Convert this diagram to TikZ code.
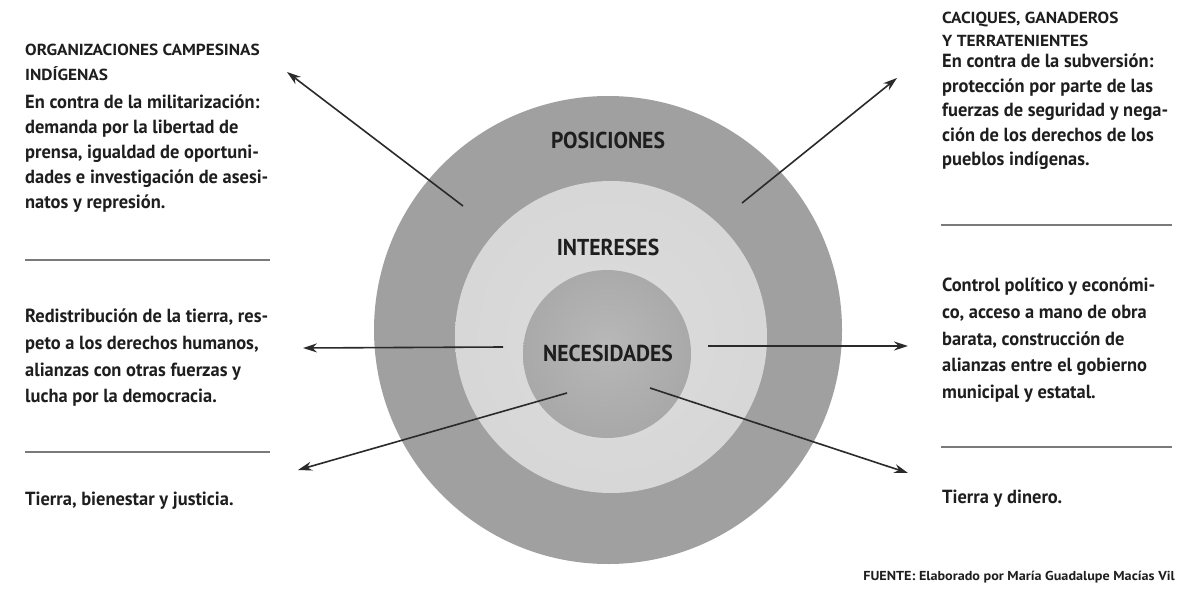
\documentclass[tikz,border=0pt]{standalone}
\usepackage{fontspec}
\setmainfont{PT Sans}
\newfontfamily\txtfont{PT Sans}[FakeStretch=0.97]
\newfontfamily\capfont{PT Sans}[FakeStretch=1.08]
\newfontfamily\ringfont{PT Sans}[FakeStretch=0.94]
\newfontfamily\srcfont{PT Sans}[FakeStretch=1.09]
\usetikzlibrary{arrows.meta}

\definecolor{ink}{HTML}{1E1E1E}
\definecolor{arrowink}{HTML}{2A2A2A}
\definecolor{rulegray}{HTML}{7A7A7A}
\definecolor{ringout}{HTML}{A0A0A0}
\definecolor{midin}{HTML}{DCDCDC}
\definecolor{midmid}{HTML}{D4D4D4}
\definecolor{midedge}{HTML}{C4C4C4}
\definecolor{corein}{HTML}{B8B8B8}
\definecolor{coremid}{HTML}{A6A6A6}
\definecolor{coreedge}{HTML}{949494}

% soft radial fills for the two inner discs
\pgfdeclareradialshading{midshade}{\pgfpoint{0bp}{0bp}}{%
  color(0bp)=(midin); color(38bp)=(midmid); color(47bp)=(midmid); color(50bp)=(midedge)}
\pgfdeclareradialshading{coreshade}{\pgfpoint{0bp}{3bp}}{%
  color(0bp)=(corein); color(30bp)=(coremid); color(50bp)=(coreedge)}

\tikzset{
  txt/.style={anchor=north west, inner sep=0pt, align=left, text=ink,
              font=\txtfont\bfseries\fontsize{19}{25}\selectfont},
  head/.style={anchor=north west, inner sep=0pt, align=left, text=ink,
               font=\capfont\bfseries\fontsize{16}{25}\selectfont},
  ring/.style={inner sep=0pt, text=ink, font=\ringfont\bfseries\fontsize{23}{26}\selectfont},
  arr/.style={draw=arrowink, line width=1.6pt, -{Stealth[length=14pt,width=9pt]}},
  sep/.style={draw=rulegray, line width=2.5pt},
}

\begin{document}
\begin{tikzpicture}[x=1pt,y=-1pt]
\useasboundingbox (0,0) rectangle (1178,615);
\fill[white] (0,0) rectangle (1178,615);

% concentric discs
\fill[ringout] (608,330) circle (234pt);
\shade[shading=midshade] (611,337) circle (156pt);
\shade[shading=coreshade] (607,354) circle (84pt);

% ring labels
\node[ring] (pos) at (608,140) {POSICIONES};
\node[ring] (int) at (608,247) {INTERESES};
\node[ring] (nec) at (608,353) {NECESIDADES};

% arrow ends
\coordinate (ulS) at (463,206);  \coordinate (ulT) at (287,72);
\coordinate (urS) at (742,203);  \coordinate (urT) at (897,78);
\coordinate (mlS) at (503,347);  \coordinate (mlT) at (303,348);
\coordinate (mrS) at (708,346);  \coordinate (mrT) at (908,346);
\coordinate (llS) at (567,393);  \coordinate (llT) at (298,470);
\coordinate (lrS) at (650,388);  \coordinate (lrT) at (908,473);

\draw[arr] (ulS) -- (ulT);
\draw[arr] (urS) -- (urT);
\draw[arr] (mlS) -- (mlT);
\draw[arr] (mrS) -- (mrT);
\draw[arr] (llS) -- (llT);
\draw[arr] (lrS) -- (lrT);

% separating rules
\coordinate (sl1a) at (25,260);  \coordinate (sl1b) at (270,260);
\coordinate (sl2a) at (25,452);  \coordinate (sl2b) at (270,452);
\coordinate (sr1a) at (941,225); \coordinate (sr1b) at (1172,225);
\coordinate (sr2a) at (941,447); \coordinate (sr2b) at (1172,447);
\draw[sep] (sl1a) -- (sl1b);
\draw[sep] (sl2a) -- (sl2b);
\draw[sep] (sr1a) -- (sr1b);
\draw[sep] (sr2a) -- (sr2b);

% left column
\node[head] (lhead) at (25,44) {ORGANIZACIONES CAMPESINAS\\INDÍGENAS};
\node[txt] (lpos) at (25,95) {En contra de la militarización:\\
  demanda por la libertad de\\
  prensa, igualdad de oportuni-\\
  dades e investigación de asesi-\\
  natos y represión.};
\node[txt, font=\txtfont\bfseries\fontsize{19}{26.7}\selectfont] (lint) at (25,309)
  {Redistribución de la tierra, res-\\
  peto a los derechos humanos,\\
  alianzas con otras fuerzas y\\
  lucha por la democracia.};
\node[txt] (lnec) at (25,492) {Tierra, bienestar y justicia.};

% right column
\node[head, font=\capfont\bfseries\fontsize{16}{22.5}\selectfont] (rhead) at (942,12)
  {CACIQUES, GANADEROS\\Y TERRATENIENTES};
\node[txt, font=\txtfont\bfseries\fontsize{19}{24.5}\selectfont] (rpos) at (942,54)
  {En contra de la subversión:\\
  protección por parte de las\\
  fuerzas de seguridad y nega-\\
  ción de los derechos de los\\
  pueblos indígenas.};
\node[txt, font=\txtfont\bfseries\fontsize{19}{26.7}\selectfont] (rint) at (942,278)
  {Control político y económi-\\
  co, acceso a mano de obra\\
  barata, construcción de\\
  alianzas entre el gobierno\\
  municipal y estatal.};
\node[txt] (rnec) at (942,490) {Tierra y dinero.};

% source line
\node[anchor=east, inner sep=0pt, text=ink, font=\srcfont\bfseries\fontsize{13}{15}\selectfont]
  (src) at (1175,577) {FUENTE: Elaborado por María Guadalupe Macías Vil};
\end{tikzpicture}
\end{document}
